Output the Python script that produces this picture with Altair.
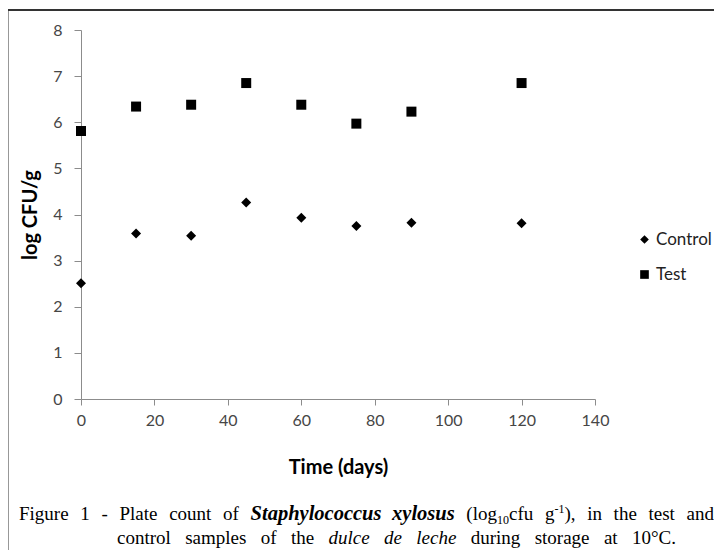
import altair as alt
import pandas as pd

# ---------------- data ----------------
days = [0, 15, 30, 45, 60, 75, 90, 120]
control = [2.51, 3.59, 3.54, 4.26, 3.93, 3.75, 3.82, 3.81]
test = [5.81, 6.34, 6.38, 6.85, 6.38, 5.97, 6.23, 6.85]
series = ["Control", "Test"]
x_ticks = [0, 20, 40, 60, 80, 100, 120, 140]
y_ticks = [0, 1, 2, 3, 4, 5, 6, 7, 8]

df = pd.DataFrame({
    "day": days + days,
    "value": control + test,
    "series": ["Control"] * len(days) + ["Test"] * len(days),
})

# ---------------- layout ----------------
PW, PH = 514, 369           # plot area
PAD = {"left": 73, "top": 22, "right": 119, "bottom": 151}
AX_COL = "#8c8c8c"
LBL_COL = "#464646"
SANS = "Lato"
SERIF = "Liberation Serif"

x_enc = alt.X("day:Q", scale=alt.Scale(domain=[0, 140], nice=False, zero=False),
              axis=alt.Axis(values=x_ticks, title="Time (days)", grid=False,
                            domainColor=AX_COL, tickColor=AX_COL, tickSize=6,
                            labelFont=SANS, labelFontSize=16, labelColor=LBL_COL,
                            labelPadding=7, labelFlush=False,
                            titleFont=SANS, titleFontSize=20, titleFontWeight="bold",
                            titleColor="black", titlePadding=29))
y_enc = alt.Y("value:Q", scale=alt.Scale(domain=[0, 8], nice=False, zero=False),
              axis=alt.Axis(values=y_ticks, title="log CFU/g", grid=False,
                            domainColor=AX_COL, tickColor=AX_COL, tickSize=7,
                            labelFont=SANS, labelFontSize=16, labelColor=LBL_COL,
                            labelPadding=12,
                            titleFont=SANS, titleFontSize=20, titleFontWeight="bold",
                            titleColor="black", titlePadding=12))

points = alt.Chart(df).mark_point(filled=True, opacity=1, color="black",
                                  size=100).encode(
    x=x_enc,
    y=y_enc,
    shape=alt.Shape("series:N",
                    scale=alt.Scale(domain=series, range=["diamond", "square"]),
                    legend=alt.Legend(orient="none", legendX=555, legendY=201,
                                      title=None, padding=0,
                                      labelFont=SANS, labelFontSize=17,
                                      labelColor="#222222", labelOffset=3,
                                      symbolSize=75, symbolFillColor="black",
                                      symbolStrokeColor="black", symbolStrokeWidth=0,
                                      rowPadding=17)),
)

# ---------------- caption (justified, Times metrics) ----------------
REG = {" ": 250, "(": 333, ")": 333, ",": 250, "-": 333, ".": 250, "°": 400,
       "A": 722, "C": 667, "F": 556, "P": 556, "S": 556, "T": 611,
       "a": 444, "b": 500, "c": 444, "d": 500, "e": 444, "f": 333, "g": 500,
       "h": 500, "i": 278, "j": 278, "k": 500, "l": 278, "m": 778, "n": 500,
       "o": 500, "p": 500, "q": 500, "r": 333, "s": 389, "t": 278, "u": 500,
       "v": 500, "w": 722, "x": 500, "y": 500, "z": 444}
ITA = dict(REG, a=500, e=444, u=500, d=500, c=444, h=500, l=278)
BI = dict(REG, S=500, a=500, c=444, h=556, l=278, o=500, p=500, s=389, t=278,
          u=556, x=500, y=444)
TABLES = {"reg": REG, "ita": ITA, "bi": BI}
SIZES = {"reg": 19, "ita": 19, "bi": 20.5, "small": 12}


def piece_w(text, style):
    t = TABLES["reg" if style == "small" else style]
    return sum(t.get(c, 500) for c in text) * SIZES[style] / 1000.0


line1 = [
    [("Figure", "reg", 0)], [("1", "reg", 0)], [("-", "reg", 0)],
    [("Plate", "reg", 0)], [("count", "reg", 0)], [("of", "reg", 0)],
    [("Staphylococcus", "bi", 0)], [("xylosus", "bi", 0)],
    [("(log", "reg", 0), ("10", "small", 4), ("cfu", "reg", 0)],
    [("g", "reg", 0), ("-1", "small", -7), ("),", "reg", 0)],
    [("in", "reg", 0)], [("the", "reg", 0)], [("test", "reg", 0)], [("and", "reg", 0)],
]
line2 = [
    [("control", "reg", 0)], [("samples", "reg", 0)], [("of", "reg", 0)],
    [("the", "reg", 0)], [("dulce", "ita", 0)], [("de", "ita", 0)],
    [("leche", "ita", 0)], [("during", "reg", 0)], [("storage", "reg", 0)],
    [("at", "reg", 0)], [("10°C.", "reg", 0)],
]


def layout(words, left, right, baseline):
    out = []
    widths = [sum(piece_w(t, s) for t, s, _ in w) for w in words]
    gap = (right - left - sum(widths)) / (len(words) - 1)
    x = left
    for w, tw in zip(words, widths):
        cx = x
        for txt, st, dy in w:
            out.append((txt, st, cx, baseline + dy))
            cx += piece_w(txt, st)
        x += tw + gap
    return out


pieces = layout(line1, -62, 633, 490) + layout(line2, 36, 595, 514)

one = pd.DataFrame({"k": [0]})
layers = [points]
for txt, st, px, py in pieces:
    kw = dict(align="left", baseline="alphabetic", font=SERIF,
              fontSize=SIZES[st], color="black")
    if st == "ita":
        kw["fontStyle"] = "italic"
    if st == "bi":
        kw["fontStyle"] = "italic"
        kw["fontWeight"] = "bold"
    layers.append(alt.Chart(one).mark_text(**kw).encode(
        x=alt.value(px), y=alt.value(py), text=alt.value(txt)))

# figure frame (left and top edges)
frame = alt.Chart(one).mark_rule(color="#333333", strokeWidth=2).encode(
    x=alt.value(-73.5), y=alt.value(-20), y2=alt.value(PH + 170))
frame_top = alt.Chart(one).mark_rule(color="#333333", strokeWidth=2).encode(
    x=alt.value(-73.5), x2=alt.value(PW + 140), y=alt.value(-20))
layers += [frame, frame_top]

chart = alt.layer(*layers).properties(
    width=PW, height=PH,
    autosize=alt.AutoSizeParams(type="none"),
    padding=PAD,
    background="white",
).configure_view(stroke=None)

chart.save("out.html", embed_options={"renderer": "svg", "actions": False})
